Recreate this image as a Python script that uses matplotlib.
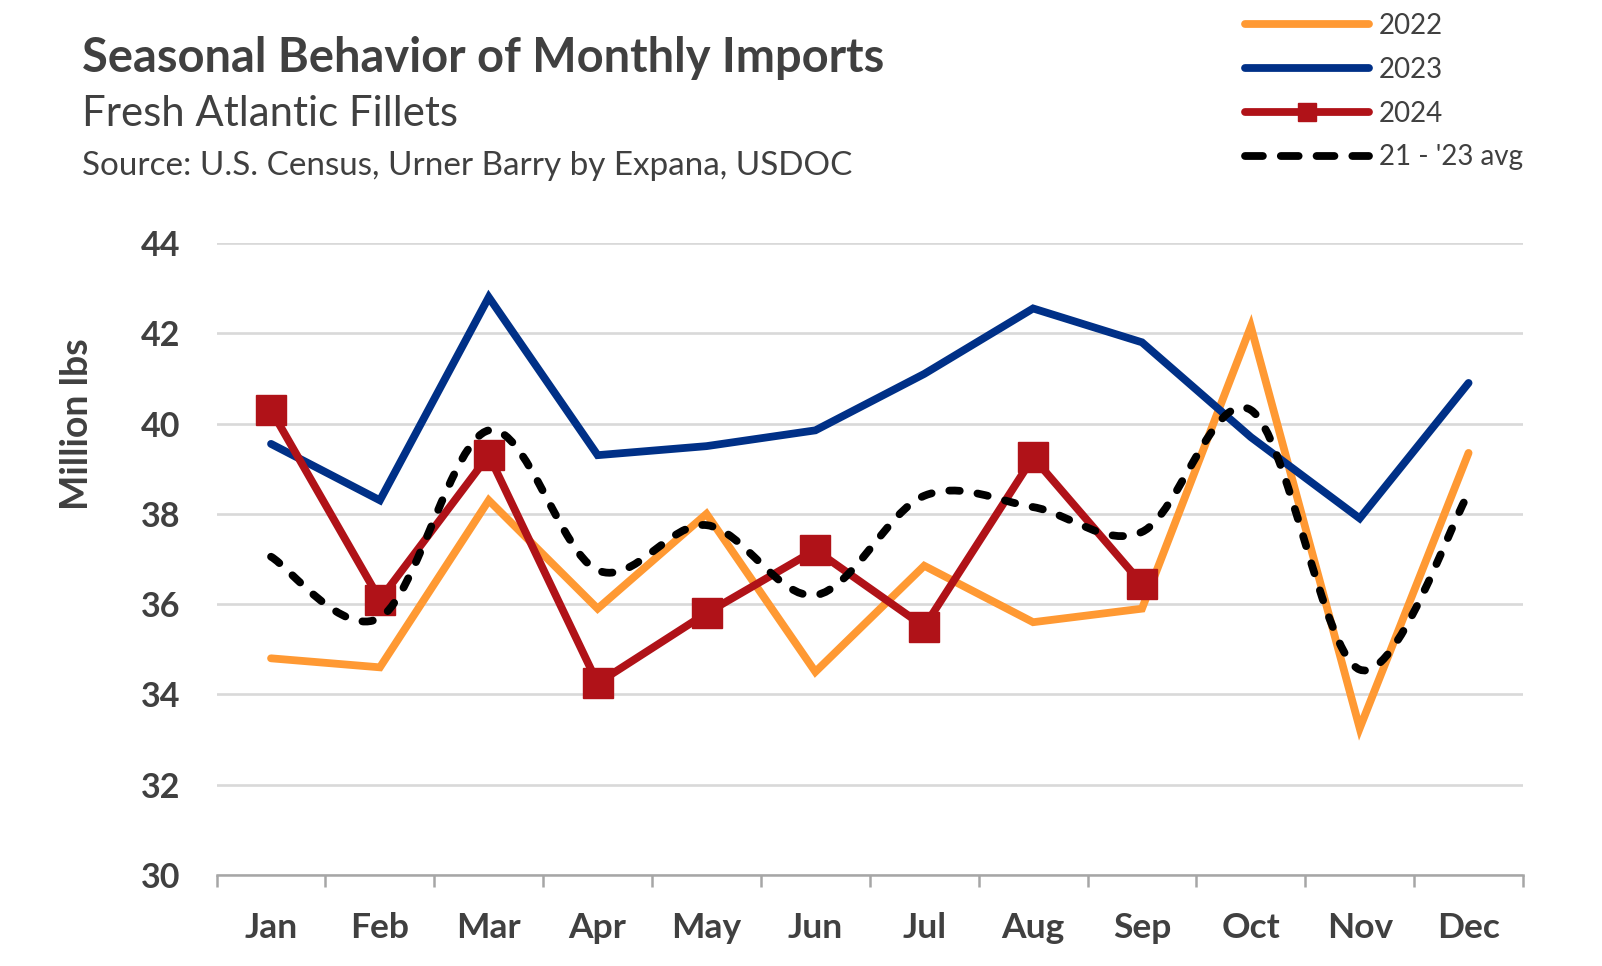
import matplotlib
matplotlib.use("Agg")
import matplotlib.pyplot as plt
from matplotlib.path import Path
from matplotlib.patches import PathPatch
from matplotlib.lines import Line2D
import numpy as np

months = ["Jan", "Feb", "Mar", "Apr", "May", "Jun", "Jul", "Aug", "Sep", "Oct", "Nov", "Dec"]
y2022 = [34.8, 34.6, 38.3, 35.9, 38.0, 34.5, 36.85, 35.6, 35.9, 42.15, 33.25, 39.35]
y2023 = [39.55, 38.3, 42.8, 39.3, 39.5, 39.85, 41.1, 42.55, 41.8, 39.7, 37.9, 40.9]
y2024 = [40.3, 36.1, 39.3, 34.25, 35.8, 37.2, 35.5, 39.25, 36.45]
avg = [37.05, 35.7, 39.85, 36.75, 37.75, 36.2, 38.4, 38.15, 37.6, 40.3, 34.55, 38.45]

C22 = "#FF9933"
C23 = "#003087"
C24 = "#B01218"
TXT = "#404040"
FONT = "Lato"
plt.rcParams["font.family"] = [FONT, "DejaVu Sans"]

W, H = 1602, 966
fig = plt.figure(figsize=(W / 100, H / 100), dpi=100)
ax = fig.add_axes([216.6 / W, 1 - 875 / H, (1523 - 216.6) / W, (875 - 243) / H])

x = np.arange(len(months))
lw = 5.6
ax.plot(x, y2022, color=C22, lw=lw, solid_capstyle="round", solid_joinstyle="miter", zorder=3)
ax.plot(x, y2023, color=C23, lw=lw, solid_capstyle="round", solid_joinstyle="miter", zorder=4)
ax.plot(x[:len(y2024)], y2024, color=C24, lw=lw, marker="s", markersize=22,
        solid_capstyle="round", solid_joinstyle="miter", zorder=5)

# smoothed dashed average line (Bezier through the data points)
pts = np.column_stack([x, avg]).astype(float)
verts = [tuple(pts[0])]
codes = [Path.MOVETO]
n = len(pts)
for i in range(n - 1):
    p0 = pts[i - 1] if i > 0 else pts[i]
    p1 = pts[i]
    p2 = pts[i + 1]
    p3 = pts[i + 2] if i + 2 < n else pts[i + 1]
    c1 = p1 + (p2 - p0) / 6.0
    c2 = p2 - (p3 - p1) / 6.0
    verts += [tuple(c1), tuple(c2), tuple(p2)]
    codes += [Path.CURVE4] * 3
dash = (0, (1.35, 2.3))
patch = PathPatch(Path(verts, codes), fill=False, edgecolor="black", lw=lw,
                  linestyle=dash, capstyle="round", zorder=6)
ax.add_patch(patch)

ax.set_xlim(-0.5, 11.5)
ax.set_ylim(30, 44)
ax.set_yticks(np.arange(30, 45, 2))
ax.set_xticks(x)
ax.set_xticklabels(months)
ax.set_xticks(np.arange(-0.5, 12, 1), minor=True)
ax.tick_params(axis="x", which="major", length=0, pad=27, labelsize=25.5, labelcolor=TXT)
ax.tick_params(axis="x", which="minor", length=8.5, width=1.8, color="#a6a6a6")
ax.tick_params(axis="y", length=0, pad=26, labelsize=24.5, labelcolor=TXT)
for lab in ax.get_xticklabels() + ax.get_yticklabels():
    lab.set_fontweight("bold")
ax.grid(axis="y", color="#d9d9d9", lw=1.9, zorder=0)
ax.set_axisbelow(True)
for s in ["top", "right", "left"]:
    ax.spines[s].set_visible(False)
ax.spines["bottom"].set_color("#a6a6a6")
ax.spines["bottom"].set_linewidth(1.8)

fig.text(77 / W, 1 - 424 / H, "Million lbs", rotation=90, ha="center", va="center",
         fontsize=27, fontweight="bold", color=TXT)

renderer = fig.canvas.get_renderer()

def fit(t, target):
    w = t.get_window_extent(renderer).width
    t.set_fontsize(t.get_fontsize() * target / w)

t1 = fig.text(82 / W, 1 - 71.5 / H, "Seasonal Behavior of Monthly Imports", fontsize=30,
              fontweight="bold", color=TXT, va="baseline", ha="left")
fit(t1, 801)
t2 = fig.text(82 / W, 1 - 126 / H, "Fresh Atlantic Fillets", fontsize=26, color=TXT,
              va="baseline", ha="left")
fit(t2, 374)
t3 = fig.text(82 / W, 1 - 175 / H, "Source: U.S. Census, Urner Barry by Expana, USDOC", fontsize=22,
              color=TXT, va="baseline", ha="left")
fit(t3, 769)

handles = [
    Line2D([], [], color=C22, lw=lw, solid_capstyle="round"),
    Line2D([], [], color=C23, lw=lw, solid_capstyle="round"),
    Line2D([], [], color=C24, lw=lw, marker="s", markersize=13, solid_capstyle="round"),
    Line2D([], [], color="black", lw=lw, linestyle=(0, (2.3, 2.3)), dash_capstyle="round"),
]
labels = ["2022", "2023", "2024", "21 - '23 avg"]
leg = fig.legend(handles, labels, loc="upper left", bbox_to_anchor=(1245 / W, 1 - 13 / H),
                 frameon=False, fontsize=20, handlelength=4.45, handletextpad=0.36,
                 labelspacing=0.64, borderpad=0, borderaxespad=0)
for t in leg.get_texts():
    t.set_color(TXT)

fig.savefig("out.png", dpi=100)
